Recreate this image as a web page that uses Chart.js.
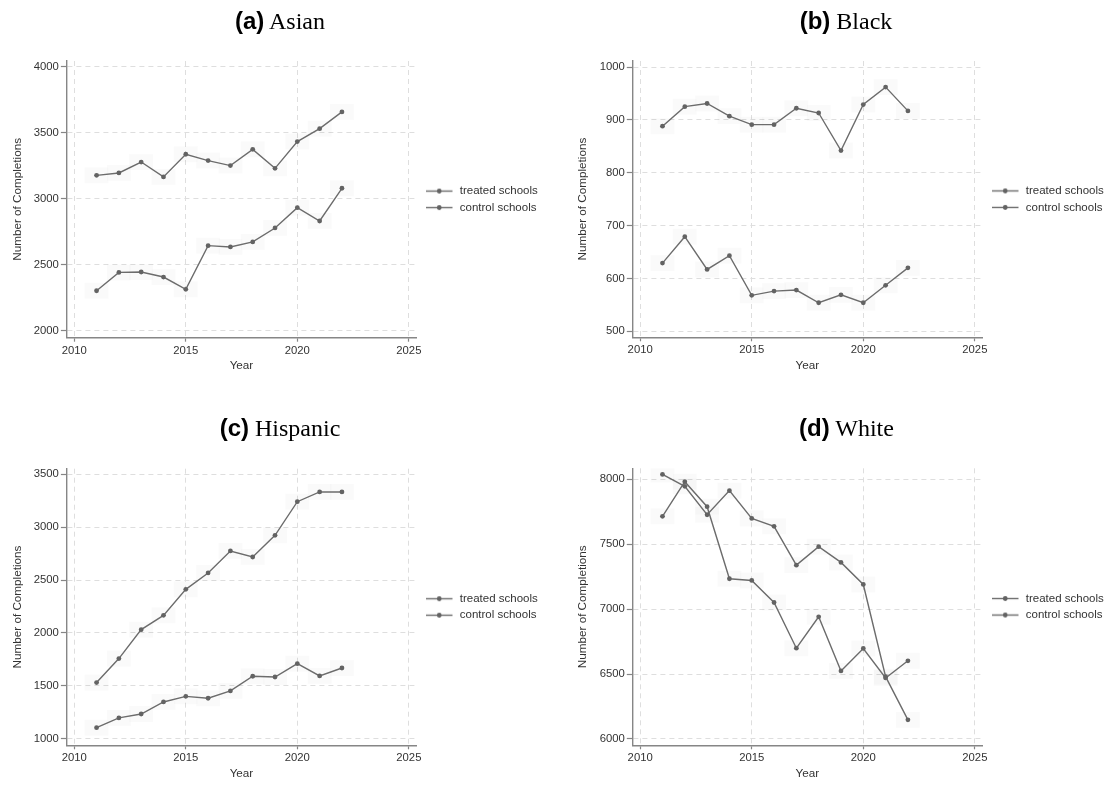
<!DOCTYPE html>
<html>
<head>
<meta charset="utf-8">
<title>Number of Completions by Race/Ethnicity</title>
<script src="https://cdn.jsdelivr.net/npm/chart.js@4.4.1/dist/chart.umd.min.js"></script>
<style>
  html, body { margin: 0; padding: 0; background: #fff; }
  #page { position: relative; width: 1112px; height: 785px; overflow: hidden; background: #fff; }
  .panel { position: absolute; width: 556px; }
  .panel canvas { position: absolute; left: 0; top: 0; }
  .ttl { position: absolute; font-size: 24px; line-height: 24px; white-space: nowrap;
         transform: translateX(-50%); color: #000;
         font-family: "Liberation Serif", "Times New Roman", serif; }
  .ttl b { font-family: "Liberation Sans", Arial, sans-serif; font-weight: bold; }
</style>
</head>
<body>
<div id="page"></div>
<script>
// ---- data ----
const years = [2011, 2012, 2013, 2014, 2015, 2016, 2017, 2018, 2019, 2020, 2021, 2022];
const seriesNames = ['treated schools', 'control schools'];
const xTicks = [2010, 2015, 2020, 2025];
const xRange = [2009.67, 2025.32];

const asianTreated = [3178, 3196, 3279, 3166, 3338, 3290, 3252, 3375, 3231, 3434, 3532, 3659];
const asianControl = [2303, 2442, 2445, 2407, 2314, 2645, 2635, 2673, 2779, 2933, 2832, 3080];
const asianTicks = [2000, 2500, 3000, 3500, 4000];
const asianRange = [1947, 4045];

const blackTreated = [888, 925, 931, 907, 891, 891, 922, 913, 842, 929, 962, 917];
const blackControl = [629, 679, 617, 643, 568, 576, 578, 554, 569, 554, 587, 620];
const blackTicks = [500, 600, 700, 800, 900, 1000];
const blackRange = [488.6, 1011.4];

const hispanicTreated = [1530, 1757, 2031, 2166, 2412, 2567, 2775, 2718, 2923, 3241, 3333, 3333];
const hispanicControl = [1104, 1196, 1233, 1347, 1400, 1382, 1451, 1590, 1583, 1709, 1593, 1668];
const hispanicTicks = [1000, 1500, 2000, 2500, 3000, 3500];
const hispanicRange = [937, 3553];

const whiteTreated = [8038, 7946, 7727, 7913, 7699, 7638, 7339, 7481, 7360, 7190, 6480, 6147];
const whiteControl = [7715, 7982, 7789, 7234, 7221, 7051, 6699, 6941, 6524, 6697, 6470, 6602];
const whiteTicks = [6000, 6500, 7000, 7500, 8000];
const whiteRange = [5951, 8085];

// ---- look ----
const SANS = '"Liberation Sans", Arial, Helvetica, sans-serif';
const TEXT = '#333333';
const LINE = '#6c6c6c';
const DOT = '#636363';
const AXIS = '#868686';
const GRID = '#dedede';

Chart.defaults.font.family = SANS;

// legend sample: short line with a marker in the middle
function makeSwatch() {
  const c = document.createElement('canvas');
  c.width = 33; c.height = 9;
  const g = c.getContext('2d');
  g.strokeStyle = LINE; g.lineWidth = 1.4;
  g.beginPath(); g.moveTo(5, 4.5); g.lineTo(31.5, 4.5); g.stroke();
  g.fillStyle = DOT;
  g.beginPath(); g.arc(18.25, 4.5, 2.4, 0, Math.PI * 2); g.fill();
  return c;
}
const swatch = makeSwatch();

// faint label boxes sitting behind every marker
const markerBoxes = {
  id: 'markerBoxes',
  beforeDatasetsDraw(chart) {
    const ctx = chart.ctx;
    const a = chart.chartArea;
    ctx.save();
    ctx.beginPath();
    ctx.rect(a.left, a.top, a.right - a.left, a.bottom - a.top);
    ctx.clip();
    ctx.fillStyle = 'rgba(0,0,0,0.018)';
    chart.data.datasets.forEach((ds, di) => {
      chart.getDatasetMeta(di).data.forEach(pt => {
        ctx.fillRect(pt.x - 12, pt.y - 8, 24, 16);
      });
    });
    ctx.restore();
  }
};

// panel layout (pixels inside each 556px-wide panel)
const panels = [
  { letter: '(a)', name: 'Asian', treated: asianTreated, control: asianControl,
    ticks: asianTicks, range: asianRange, left: 0, top: 0, h: 392,
    area: { left: 66.9, right: 416, top: 61, bottom: 337.7 }, yTitleX: 17.4,
    yearY: 365.7, titleX: 280, titleBase: 28.5 },
  { letter: '(b)', name: 'Black', treated: blackTreated, control: blackControl,
    ticks: blackTicks, range: blackRange, left: 556, top: 0, h: 392,
    area: { left: 76.8, right: 426, top: 61, bottom: 337.3 }, yTitleX: 27,
    yearY: 365.7, titleX: 290, titleBase: 28.5 },
  { letter: '(c)', name: 'Hispanic', treated: hispanicTreated, control: hispanicControl,
    ticks: hispanicTicks, range: hispanicRange, left: 0, top: 392, h: 393,
    area: { left: 66.9, right: 416, top: 76.7, bottom: 353.3 }, yTitleX: 17.4,
    yearY: 381.7, titleX: 280, titleBase: 44 },
  { letter: '(d)', name: 'White', treated: whiteTreated, control: whiteControl,
    ticks: whiteTicks, range: whiteRange, left: 556, top: 392, h: 393,
    area: { left: 76.8, right: 426, top: 76.3, bottom: 353.3 }, yTitleX: 27,
    yearY: 381.7, titleX: 290.5, titleBase: 44 }
];

const page = document.getElementById('page');

function seriesStyle() {
  return {
    borderColor: LINE, borderWidth: 1.4, fill: false, tension: 0,
    pointRadius: 2.4, pointBackgroundColor: DOT, pointBorderWidth: 0,
    pointHoverRadius: 2.4
  };
}

function buildPanel(p) {
  const wrap = document.createElement('div');
  wrap.className = 'panel';
  wrap.style.left = p.left + 'px';
  wrap.style.top = p.top + 'px';
  wrap.style.height = p.h + 'px';
  page.appendChild(wrap);

  const cv = document.createElement('canvas');
  cv.width = 556; cv.height = p.h;
  cv.style.width = '556px'; cv.style.height = p.h + 'px';
  wrap.appendChild(cv);

  const ttl = document.createElement('div');
  ttl.className = 'ttl';
  ttl.style.left = p.titleX + 'px';
  ttl.style.top = (p.titleBase - 20) + 'px';
  ttl.innerHTML = '<b>' + p.letter + '</b> ' + p.name;
  wrap.appendChild(ttl);

  const titleFont = { family: SANS, size: 11.7 };
  const titleHalf = 11.7 * 1.2 / 2;
  const tickFont = { family: SANS, size: 11.3 };

  const chart = new Chart(cv, {
    type: 'line',
    data: {
      datasets: [
        Object.assign({ label: seriesNames[0], data: years.map((y, i) => ({ x: y, y: p.treated[i] })) }, seriesStyle()),
        Object.assign({ label: seriesNames[1], data: years.map((y, i) => ({ x: y, y: p.control[i] })) }, seriesStyle())
      ]
    },
    plugins: [markerBoxes],
    options: {
      responsive: false,
      maintainAspectRatio: false,
      animation: false,
      devicePixelRatio: 1,
      events: [],
      layout: { padding: { left: 0, top: p.area.top, right: 20, bottom: 0 } },
      plugins: {
        legend: {
          position: 'right', align: 'center', fullSize: false,
          labels: {
            usePointStyle: true, pointStyle: swatch, pointStyleWidth: 33,
            padding: 5, color: TEXT, font: { family: SANS, size: 11.5 }
          }
        },
        tooltip: { enabled: false },
        title: { display: false }
      },
      scales: {
        x: {
          type: 'linear', min: xRange[0], max: xRange[1],
          afterBuildTicks: s => { s.ticks = xTicks.map(v => ({ value: v })); },
          afterFit: s => { s.height = p.h - p.area.bottom; },
          ticks: { callback: v => String(v), color: TEXT, font: tickFont,
                   padding: 2, maxRotation: 0, autoSkip: false, includeBounds: false },
          grid: { color: GRID, lineWidth: 1, tickLength: 4, tickColor: AXIS, tickWidth: 1.2, tickBorderDash: [] },
          border: { color: AXIS, width: 1.4, dash: [5, 4] },
          title: { display: true, text: 'Year', color: TEXT, font: titleFont,
                   padding: { top: 0, bottom: p.h - p.yearY - titleHalf } }
        },
        y: {
          type: 'linear', min: p.range[0], max: p.range[1],
          afterBuildTicks: s => { s.ticks = p.ticks.map(v => ({ value: v })); },
          afterFit: s => { s.width = p.area.left; },
          ticks: { callback: v => String(v), color: TEXT, font: tickFont,
                   padding: 2, includeBounds: false },
          grid: { color: GRID, lineWidth: 1, tickLength: 6, tickColor: AXIS, tickWidth: 1.2, tickBorderDash: [] },
          border: { color: AXIS, width: 1.4, dash: [5, 4] },
          title: { display: true, text: 'Number of Completions', color: TEXT, font: titleFont,
                   padding: { top: p.yTitleX - titleHalf, bottom: 0 } }
        }
      }
    }
  });

  // settle the plot's right edge so the legend sits beside it
  const shift = p.area.right - chart.chartArea.right;
  chart.options.layout.padding.right -= shift;
  chart.update();
  return chart;
}

panels.forEach(buildPanel);
</script>
</body>
</html>
